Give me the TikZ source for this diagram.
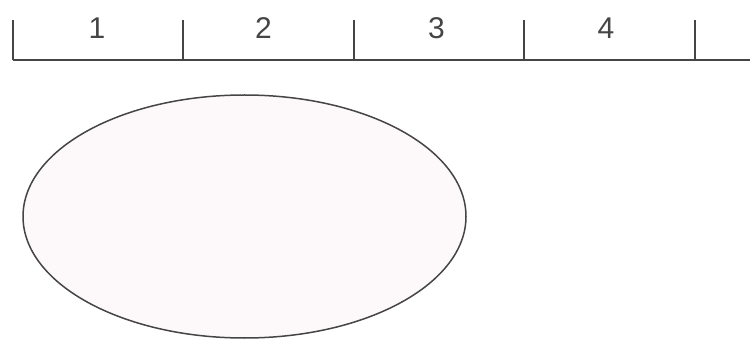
\documentclass[tikz,border=0pt]{standalone}
\usepackage{fontspec}
\setmainfont{Liberation Sans}
\definecolor{linec}{HTML}{454545}
\definecolor{fillc}{HTML}{FDF9FB}
\begin{document}
\begin{tikzpicture}[x=1pt,y=-1pt,
  rule/.style={draw=linec,line width=1.5pt},
  lbl/.style={font=\fontsize{30}{30}\selectfont,text=linec,inner sep=0pt,anchor=base}]
\useasboundingbox (0,0) rectangle (750,339);
\coordinate (L) at (13,60);
\coordinate (R) at (750,60);
\draw[rule] (L) -- (R);
\foreach \x/\n in {13/t0,183/t1,354/t2,524/t3,695/t4}{
  \coordinate (\n b) at (\x,60);
  \coordinate (\n t) at (\x,20);
  \draw[rule] (\n b) -- (\n t);
}
\node[lbl] (n1) at (97,39) {1};
\node[lbl] (n2) at (263.5,39) {2};
\node[lbl] (n3) at (436.5,39) {3};
\node[lbl] (n4) at (606,39) {4};
\draw[rule,fill=fillc] (244.5,216.5) ellipse [x radius=221.5,y radius=121.5];
\end{tikzpicture}
\end{document}
